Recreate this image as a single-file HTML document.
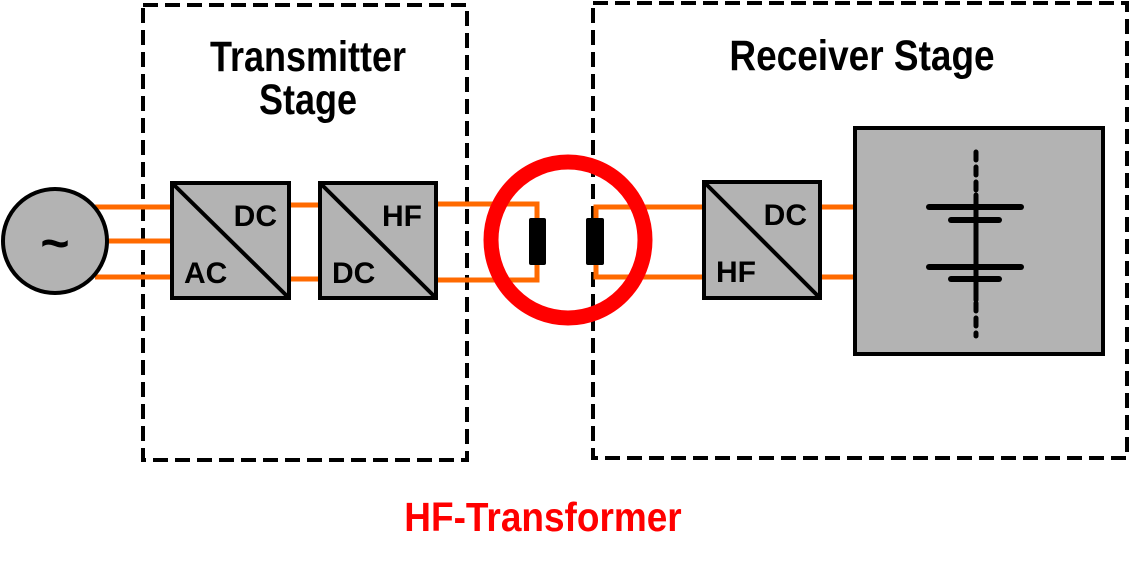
<!DOCTYPE html>
<html><head><meta charset="utf-8"><style>html,body{margin:0;padding:0;background:#fff}svg{display:block}</style></head>
<body>
<svg width="1132" height="563" viewBox="0 0 1132 563" xmlns="http://www.w3.org/2000/svg" font-family="Liberation Sans, Arial, sans-serif" font-weight="bold">
<rect x="143" y="5" width="324" height="455" fill="none" stroke="#000" stroke-width="4" stroke-dasharray="15 7"/>
<rect x="593" y="3" width="534" height="455" fill="none" stroke="#000" stroke-width="4" stroke-dasharray="15 7"/>
<g stroke="#ff6a00" stroke-width="5" fill="none">
<line x1="95" y1="207" x2="172" y2="207"/>
<line x1="105" y1="241" x2="172" y2="241"/>
<line x1="95" y1="277" x2="172" y2="277"/>
<line x1="289" y1="205" x2="320" y2="205"/>
<line x1="289" y1="279" x2="320" y2="279"/>
<polyline points="436,204 537,204 537,280 436,280"/>
<polyline points="703,207 596,207 596,277 703,277"/>
<line x1="820" y1="207" x2="855" y2="207"/>
<line x1="820" y1="277" x2="855" y2="277"/>
</g>
<circle cx="55" cy="241" r="52" fill="#b3b3b3" stroke="#000" stroke-width="4"/>
<text x="55" y="260" font-size="50" text-anchor="middle">~</text>
<rect x="172" y="183" width="117" height="115" fill="#b3b3b3" stroke="#000" stroke-width="4"/>
<line x1="172" y1="183" x2="289" y2="298" stroke="#000" stroke-width="4"/>
<text x="277" y="226" font-size="30" text-anchor="end">DC</text>
<text x="184" y="283" font-size="30">AC</text>
<rect x="320" y="183" width="116" height="115" fill="#b3b3b3" stroke="#000" stroke-width="4"/>
<line x1="320" y1="183" x2="436" y2="298" stroke="#000" stroke-width="4"/>
<text x="422" y="226" font-size="30" text-anchor="end">HF</text>
<text x="332" y="283" font-size="30">DC</text>
<rect x="529" y="218" width="17" height="47" rx="2" fill="#000"/>
<rect x="586" y="218" width="18" height="47" rx="2" fill="#000"/>
<ellipse cx="568" cy="240" rx="77" ry="78" fill="none" stroke="#ff0000" stroke-width="15"/>
<rect x="704" y="182" width="116" height="116" fill="#b3b3b3" stroke="#000" stroke-width="4"/>
<line x1="704" y1="182" x2="820" y2="298" stroke="#000" stroke-width="4"/>
<text x="807" y="225" font-size="30" text-anchor="end">DC</text>
<text x="716" y="282" font-size="30">HF</text>
<rect x="855" y="128" width="248" height="226" fill="#b3b3b3" stroke="#000" stroke-width="4"/>
<g stroke="#000" stroke-linecap="round">
<line x1="976" y1="152" x2="976" y2="195" stroke-width="5" stroke-dasharray="8 7"/>
<line x1="976" y1="195" x2="976" y2="300" stroke-width="5"/>
<line x1="976" y1="303" x2="976" y2="336" stroke-width="5" stroke-dasharray="8 7"/>
<line x1="929" y1="207" x2="1021" y2="207" stroke-width="6"/>
<line x1="951" y1="220" x2="999" y2="220" stroke-width="6"/>
<line x1="929" y1="267" x2="1021" y2="267" stroke-width="6"/>
<line x1="951" y1="279" x2="999" y2="279" stroke-width="6"/>
</g>
<text x="308" y="0" font-size="36" text-anchor="middle" transform="translate(0,71) scale(1,1.18)">Transmitter</text>
<text x="308" y="0" font-size="36" text-anchor="middle" transform="translate(0,114) scale(1,1.18)">Stage</text>
<text x="862" y="0" font-size="37" text-anchor="middle" transform="translate(0,70) scale(1,1.15)">Receiver Stage</text>
<text x="543" y="0" font-size="37" text-anchor="middle" fill="#ff0000" transform="translate(0,531) scale(1,1.1)">HF-Transformer</text>
</svg>
</body></html>
